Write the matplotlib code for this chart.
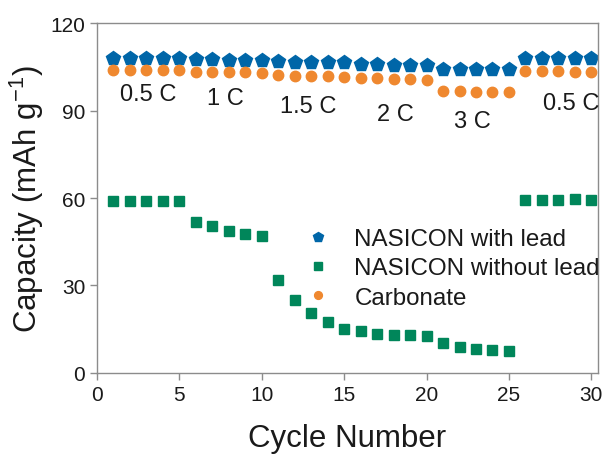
import matplotlib
matplotlib.use("Agg")
import matplotlib.pyplot as plt

plt.rcParams['font.family'] = ['Liberation Sans', 'DejaVu Sans']
plt.rcParams['mathtext.default'] = 'regular'

# cycle index and capacities (mAh/g)
cycles = list(range(1, 31))
with_lead = [108.2, 108.1, 108.1, 108.1, 108.2,
             107.6, 107.6, 107.5, 107.5, 107.5,
             106.9, 106.8, 106.8, 106.7, 106.6,
             106.1, 105.9, 105.8, 105.8, 105.7,
             104.3, 104.2, 104.2, 104.3, 104.3,
             108.0, 108.0, 108.0, 108.0, 107.9]
without_lead = [59.1, 59.1, 59.1, 59.1, 59.1,
                51.8, 50.3, 48.8, 47.8, 46.9,
                31.8, 25.0, 20.4, 17.5, 15.2,
                14.4, 13.2, 12.9, 12.9, 12.5,
                10.3, 9.0, 8.2, 7.7, 7.5,
                59.4, 59.4, 59.5, 59.6, 59.5]
carbonate = [104.0, 103.9, 103.9, 103.9, 104.0,
             103.2, 103.1, 103.1, 103.1, 103.0,
             102.2, 102.0, 101.9, 101.8, 101.7,
             101.3, 101.1, 101.0, 100.9, 100.6,
             96.6, 96.6, 96.5, 96.4, 96.4,
             103.5, 103.5, 103.5, 103.4, 103.4]

rate_labels = ['0.5 C', '1 C', '1.5 C', '2 C', '3 C', '0.5 C']
rate_x = [3.1, 7.8, 12.8, 18.1, 22.8, 28.8]
rate_y = [95.7, 94.2, 91.7, 89.0, 86.3, 92.6]

blue = '#0066a8'
green = '#00865a'
orange = '#ef882f'
gray = '#8c8c8c'
ink = '#1a1a1a'

fig = plt.figure(figsize=(6.12, 4.56), dpi=100)
ax = fig.add_axes([0.1585, 0.18, 0.8185, 0.767])

ax.plot(cycles, with_lead, linestyle='none', marker='p', ms=10, color=blue,
        label='NASICON with lead')
ax.plot(cycles, without_lead, linestyle='none', marker='s', ms=7, color=green,
        label='NASICON without lead')
ax.plot(cycles, carbonate, linestyle='none', marker='o', ms=7.5, color=orange,
        label='Carbonate')

for lab, x, y in zip(rate_labels, rate_x, rate_y):
    ax.text(x, y, lab, ha='center', va='center', fontsize=17, color=ink)

ax.set_xlim(0, 30.4)
ax.set_ylim(0, 120)
ax.set_xticks([0, 5, 10, 15, 20, 25, 30])
ax.set_yticks([0, 30, 60, 90, 120])

for s in ax.spines.values():
    s.set_color(gray)
    s.set_linewidth(1.0)
ax.tick_params(direction='out', length=5, width=1, color=gray,
               labelsize=15, labelcolor=ink)

ax.set_xlabel('Cycle Number', fontsize=22.5, color=ink, labelpad=14)
ax.set_ylabel('Capacity (mAh g$^{-1}$)', fontsize=22.5, color=ink, labelpad=3)

ax.legend(loc='upper left', bbox_to_anchor=(0.417, 0.414), frameon=False,
          fontsize=17.4, handlelength=1.0, handletextpad=1.01, labelspacing=0.3,
          markerscale=0.75, borderpad=0, borderaxespad=0, labelcolor=ink)

fig.savefig('out.png', dpi=100)
